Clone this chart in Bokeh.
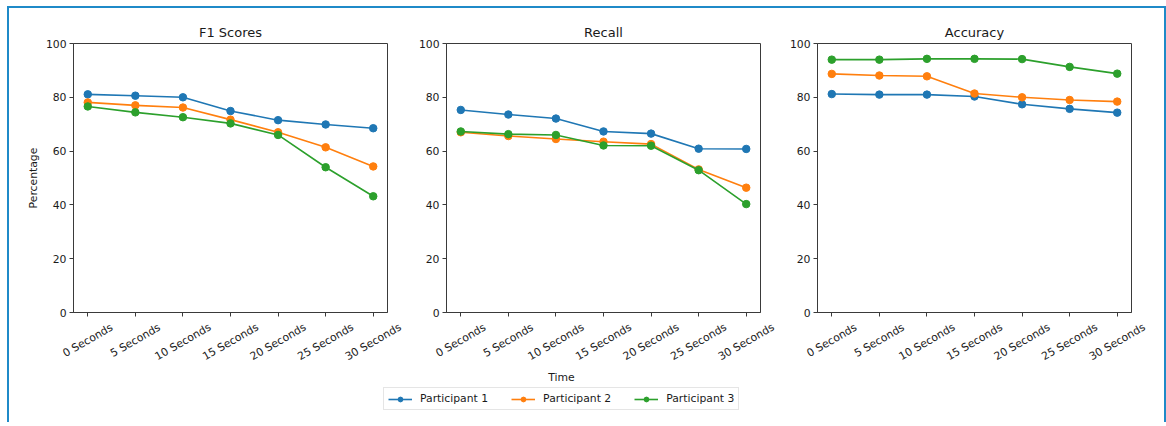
import math
from bokeh.plotting import figure
from bokeh.models import Range1d, FixedTicker, Label, Legend, LegendItem, ColumnDataSource
from bokeh.layouts import row, column
from bokeh.core.properties import value
from bokeh.embed import file_html
from bokeh.resources import INLINE

categories = ["0 Seconds", "5 Seconds", "10 Seconds", "15 Seconds",
              "20 Seconds", "25 Seconds", "30 Seconds"]
participants = ["Participant 1", "Participant 2", "Participant 3"]

f1_p1 = [81.1, 80.6, 80.0, 74.9, 71.5, 69.9, 68.5]
f1_p2 = [78.1, 77.0, 76.2, 71.7, 67.0, 61.4, 54.3]
f1_p3 = [76.6, 74.4, 72.6, 70.3, 66.0, 54.0, 43.2]

recall_p1 = [75.3, 73.6, 72.1, 67.3, 66.5, 60.9, 60.8]
recall_p2 = [67.0, 65.6, 64.5, 63.5, 62.6, 53.2, 46.4]
recall_p3 = [67.3, 66.3, 66.0, 62.1, 62.0, 52.9, 40.3]

acc_p1 = [81.2, 81.0, 81.0, 80.3, 77.4, 75.7, 74.3]
acc_p2 = [88.7, 88.1, 87.8, 81.4, 80.0, 79.0, 78.4]
acc_p3 = [94.0, 94.0, 94.3, 94.3, 94.2, 91.3, 88.8]

y_ticks = [0, 20, 40, 60, 80, 100]
colors = ["#1f77b4", "#ff7f0e", "#2ca02c"]

FONT = "DejaVu Sans"
TICK_SIZE = "10.8px"
AX_COLOR = "#3a3a3a"
TXT_COLOR = "#1a1a1a"
FRAME_W = 314
FRAME_H = 269
X_START, X_END = -0.3, len(categories) - 0.7
STRIP_H = 40


def make_panel(title, series, left, right, ylabel=None):
    xs = list(range(len(categories)))
    p = figure(frame_width=FRAME_W, frame_height=FRAME_H,
               min_border_left=left, min_border_right=right,
               min_border_top=35, min_border_bottom=10,
               x_range=Range1d(X_START, X_END), y_range=Range1d(0, 100),
               output_backend="svg", toolbar_location=None, title=title)
    p.title.align = "center"
    p.title.text_font = FONT
    p.title.text_font_size = "13px"
    p.title.text_font_style = "normal"
    p.title.text_color = TXT_COLOR
    p.title.standoff = 7
    p.grid.visible = False
    p.outline_line_color = AX_COLOR
    p.outline_line_width = 1
    p.background_fill_color = "white"
    p.border_fill_color = "white"
    for ax in (p.xaxis[0], p.yaxis[0]):
        ax.axis_line_color = AX_COLOR
        ax.major_tick_line_color = AX_COLOR
        ax.major_tick_out = 4
        ax.major_tick_in = 0
        ax.minor_tick_line_color = None
        ax.major_label_text_font = FONT
        ax.major_label_text_font_size = TICK_SIZE
        ax.major_label_text_color = TXT_COLOR
    p.yaxis.ticker = FixedTicker(ticks=y_ticks)
    p.yaxis.major_label_standoff = 3
    if ylabel:
        p.yaxis.axis_label = ylabel
        p.yaxis.axis_label_text_font = FONT
        p.yaxis.axis_label_text_font_size = TICK_SIZE
        p.yaxis.axis_label_text_font_style = "normal"
        p.yaxis.axis_label_text_color = TXT_COLOR
        p.yaxis.axis_label_standoff = 3
    p.xaxis.ticker = FixedTicker(ticks=xs)
    p.xaxis.major_label_text_font_size = "0px"
    p.xaxis.major_label_text_color = None
    p.xaxis.major_label_standoff = 0
    for vals, c in zip(series, colors):
        p.line(xs, vals, line_color=c, line_width=1.6)
        p.scatter(xs, vals, size=7.5, fill_color=c, line_color=c)

    # strip below the panel holding the rotated category labels (same x scale)
    upx = (X_END - X_START) / FRAME_W
    s = figure(width=left + FRAME_W + right, height=STRIP_H, min_border=0,
               x_range=Range1d(X_START - left * upx, X_END + right * upx),
               y_range=Range1d(0, STRIP_H),
               output_backend="svg", toolbar_location=None,
               x_axis_location=None, y_axis_location=None)
    s.grid.visible = False
    s.outline_line_color = None
    drops = [0.5 * (0.5 * 5.85 * len(c) + 0.866 * 11) for c in categories]
    src = ColumnDataSource(dict(x=xs, y=[STRIP_H - d for d in drops], t=categories))
    s.text(x="x", y="y", text="t", source=src, angle=math.pi / 6,
           text_align="center", text_baseline="middle",
           text_font=value(FONT), text_font_size=TICK_SIZE, text_color=TXT_COLOR)
    return p, s


p1, s1 = make_panel("F1 Scores", [f1_p1, f1_p2, f1_p3], 64, 20, "Percentage")
p2, s2 = make_panel("Recall", [recall_p1, recall_p2, recall_p3], 39, 20)
p3, s3 = make_panel("Accuracy", [acc_p1, acc_p2, acc_p3], 37, 33)

W = 1155
H = 60
leg_fig = figure(width=W, height=H, x_range=Range1d(0, W), y_range=Range1d(0, H),
                 min_border=0, output_backend="svg", toolbar_location=None,
                 x_axis_location=None, y_axis_location=None)
leg_fig.grid.visible = False
leg_fig.outline_line_color = None
leg_fig.add_layout(Label(x=552, y=H - 15, text="Time", text_align="center",
                         text_baseline="middle", text_font=FONT,
                         text_font_size=TICK_SIZE, text_color=TXT_COLOR))
nan = float("nan")
items = []
for name, c in zip(participants, colors):
    rl = leg_fig.line(x=[nan], y=[nan], line_color=c, line_width=1.6)
    rs = leg_fig.scatter(x=[nan], y=[nan], size=8, fill_color=c, line_color=c)
    items.append(LegendItem(label=name, renderers=[rl, rs]))
legend = Legend(items=items, orientation="horizontal", location=(374, 12),
                border_line_color="#cccccc", border_line_width=1,
                padding=4, spacing=23, glyph_width=24, glyph_height=12,
                label_standoff=8, label_height=12, margin=0,
                label_text_font=FONT, label_text_font_size=TICK_SIZE,
                label_text_color=TXT_COLOR, background_fill_alpha=1.0)
leg_fig.add_layout(legend)

layout = column(row(p1, p2, p3), row(s1, s2, s3), leg_fig,
                styles={"border-left": "2px solid #1f8ac8",
                        "border-top": "2px solid #1f8ac8",
                        "border-right": "2px solid #1f8ac8",
                        "margin-left": "7px", "margin-top": "6px"})

open("out.html", "w").write(file_html(layout, INLINE))
